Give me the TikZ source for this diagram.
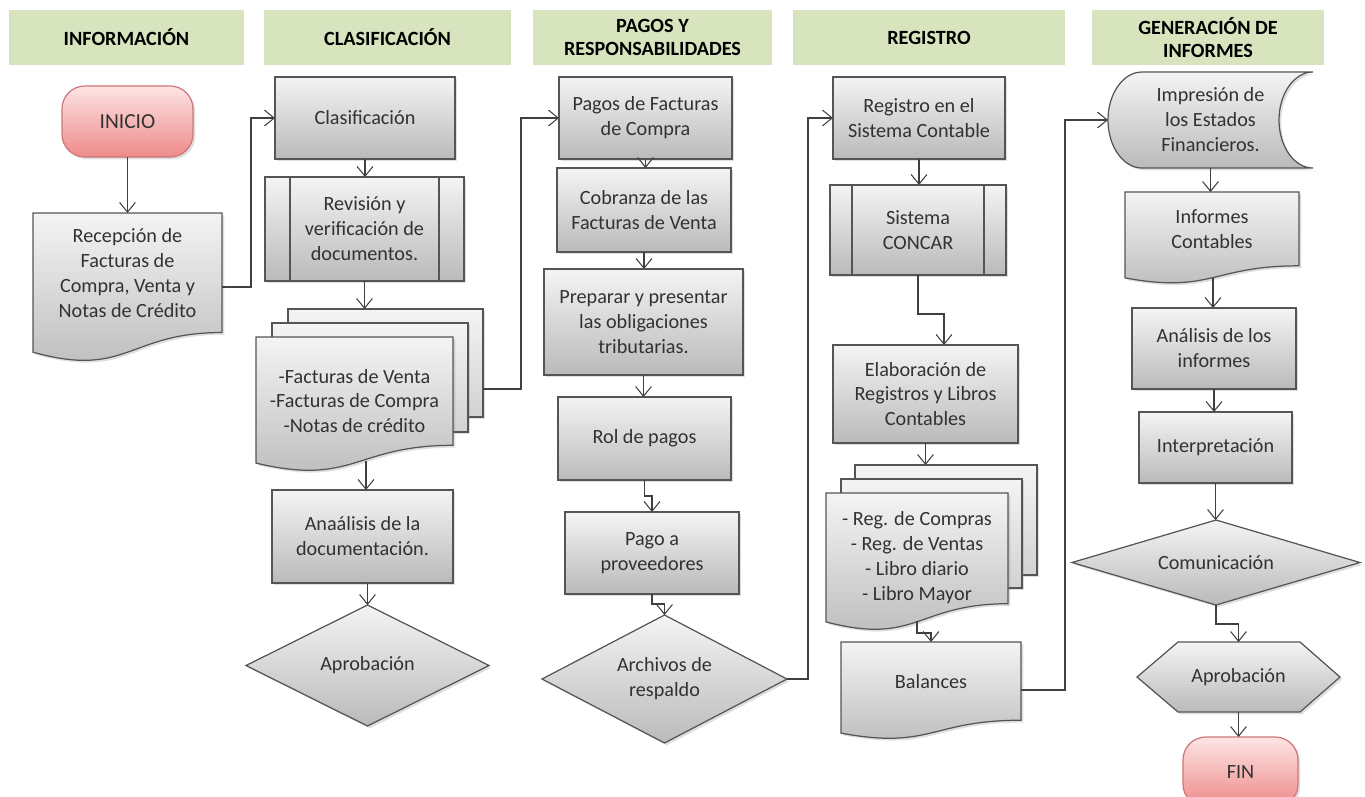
\documentclass[tikz,border=0pt]{standalone}
\usepackage{fontspec}
\setmainfont{Carlito}
\usetikzlibrary{arrows.meta,shadows,calc}
\definecolor{hdr}{RGB}{215,228,189}
\definecolor{gtop}{RGB}{244,244,244}
\definecolor{gbot}{RGB}{186,186,186}
\definecolor{gmid}{RGB}{210,210,210}
\definecolor{bord}{RGB}{85,85,85}
\definecolor{txt}{RGB}{50,50,50}
\definecolor{ptop}{RGB}{253,228,228}
\definecolor{pbot}{RGB}{238,138,138}
\definecolor{pbord}{RGB}{205,120,120}
\definecolor{lnc}{RGB}{64,64,64}
\begin{document}
\begin{tikzpicture}[x=0.02cm,y=-0.02cm,
  sz/.style 2 args={minimum width=#1*0.02cm, minimum height=#2*0.02cm},
  body/.style={font=\fontsize{11.5pt}{14.2pt}\selectfont, text=txt, align=center},
  hdrbox/.style={fill=hdr, draw=none, inner sep=0pt, outer sep=0pt, font=\bfseries\fontsize{11.5pt}{13.3pt}\selectfont, align=center, text=black},
  shp/.style={draw=bord, line width=0.7pt, top color=gtop, bottom color=gbot, drop shadow={opacity=0.25, shadow xshift=1.3pt, shadow yshift=-1.3pt}},
  shpl/.style={shp, bottom color=gmid},
  proc/.style={shp, body, inner sep=0pt, outer sep=0pt},
  term/.style={draw=pbord, line width=0.7pt, top color=ptop, bottom color=pbot, rounded corners=13pt, inner sep=0pt, outer sep=0pt, drop shadow={opacity=0.25, shadow xshift=1.3pt, shadow yshift=-1.3pt}, text=txt},
  lbl/.style={body, draw=none, inner sep=0pt, outer sep=0pt},
  conn/.style={draw=lnc, line width=0.6pt, -{Straight Barb[length=5.5pt,width=9pt]}},
  ln/.style={draw=bord, line width=0.7pt}
]
\useasboundingbox (0,0) rectangle (1365,796);

% ---------- headers ----------
\node[hdrbox, sz={235}{55}] (h1) at (126.5,37.5) {INFORMACIÓN};
\node[hdrbox, sz={247}{55}] (h2) at (387.5,37.5) {CLASIFICACIÓN};
\node[hdrbox, sz={239}{55}] (h3) at (652.5,37.5) {PAGOS Y\\RESPONSABILIDADES};
\node[hdrbox, sz={272}{55}] (h4) at (929,37.5) {REGISTRO};
\node[hdrbox, sz={232}{55}] (h5) at (1208,37.5) {GENERACIÓN DE\\INFORMES};

% ---------- column 1 ----------
\node[term, sz={131}{71}, font=\fontsize{12.2pt}{14pt}\selectfont] (inicio) at (127.5,121.5) {INICIO};
\path[shp] (33,213) -- (222,213) -- (222,332.5) .. controls (127.5,332.5) and (127.5,378.5) .. (33,352.2) -- cycle;
\node[lbl, sz={189}{119.5}] (recep) at (127.5,272.7) {Recepción de\\Facturas de\\Compra, Venta y\\Notas de Crédito};
\coordinate (recep-out) at (222,287);
\coordinate (b1) at (251,118);

% ---------- column 2 ----------
\node[proc, sz={180}{82}] (clasif) at (365,118) {Clasificación};
\node[proc, sz={199}{104}] (revis) at (364.5,229) {Revisión y\\verificación de\\documentos.};
\draw[ln] (290,177) -- (290,281) (439,177) -- (439,281);
\node[shpl, sz={195}{108}, inner sep=0pt, outer sep=0pt] (m2c) at (385.5,363) {};
\node[shpl, sz={196}{109}, inner sep=0pt, outer sep=0pt] (m2b) at (370,377.5) {};
\path[shp] (256,337) -- (453,337) -- (453,445.3) .. controls (354.5,445.3) and (354.5,486.4) .. (256,463.1) -- cycle;
\node[lbl] (m2) at (354.5,401) {-Facturas de Venta\\-Facturas de Compra\\-Notas de crédito};
\coordinate (m2-out) at (366,461);
\coordinate (m2-r) at (483,389);
\coordinate (b2) at (521,118);
\node[proc, sz={181}{93}] (anaal) at (362.5,536.5) {Anaálisis de la\\documentación.};
\path[shp] (367.5,605) -- (489,665.5) -- (367.5,726) -- (246,665.5) -- cycle;
\node[lbl, sz={243}{121}] (aprob1) at (367.5,665.5) {Aprobación};

% ---------- column 3 ----------
\node[proc, sz={173}{82}] (pagos) at (645.5,118) {Pagos de Facturas\\de Compra};
\node[proc, sz={174}{84}] (cobr) at (644,210) {Cobranza de las\\Facturas de Venta};
\node[proc, sz={199}{106}] (prep) at (643.5,322) {Preparar y presentar\\las obligaciones\\tributarias.};
\node[proc, sz={173}{83}] (rol) at (644.5,438.5) {Rol de pagos};
\node[proc, sz={174}{82}] (pagop) at (652,553) {Pago a\\proveedores};
\path[shp] (664.5,615) -- (787,679) -- (664.5,743) -- (542,679) -- cycle;
\node[lbl, sz={245}{128}] (arch) at (664.5,679) {Archivos de\\respaldo};
\coordinate (b3) at (808,118);

% ---------- column 4 ----------
\node[proc, sz={172}{82}] (regis) at (919,118) {Registro en el\\Sistema Contable};
\node[proc, sz={176}{90}] (concar) at (918,230) {Sistema\\CONCAR};
\draw[ln] (852,185) -- (852,275) (984,185) -- (984,275);
\coordinate (elab-in) at (944,345);
\node[proc, sz={185}{98}] (elab) at (925.5,394) {Elaboración de\\Registros y Libros\\Contables};
\node[shpl, sz={182}{110}, inner sep=0pt, outer sep=0pt] (m4c) at (946,520) {};
\node[shpl, sz={181}{109}, inner sep=0pt, outer sep=0pt] (m4b) at (931.5,533.5) {};
\path[shp] (826,493) -- (1008,493) -- (1008,603.7) .. controls (917,603.7) and (917,645.8) .. (826,621.9) -- cycle;
\node[lbl] (m4) at (917,558) {- Reg. de Compras\\- Reg. de Ventas\\- Libro diario\\- Libro Mayor};
\coordinate (m4-out) at (917,621);
\path[shp] (841,642) -- (1021,642) -- (1021,720.2) .. controls (931,720.2) and (931,749.9) .. (841,733.1) -- cycle;
\node[lbl, sz={180}{78.2}] (bal) at (931,681.1) {Balances};
\coordinate (bal-out) at (1021,690);
\coordinate (b5) at (1065,120);

% ---------- column 5 ----------
\path[shp] (1142,72) -- (1313,72)
  .. controls (1294.2,72) and (1279,93.5) .. (1279,120)
  .. controls (1279,146.5) and (1294.2,168) .. (1313,168)
  -- (1142,168)
  .. controls (1123.2,168) and (1108,146.5) .. (1108,120)
  .. controls (1108,93.5) and (1123.2,72) .. cycle;
\node[lbl, sz={205}{96}] (impr) at (1210.5,120) {Impresión de\\los Estados\\Financieros.};
\path[shp] (1125,192) -- (1299,192) -- (1299,265.8) .. controls (1212,265.8) and (1212,293.8) .. (1125,277.9) -- cycle;
\node[lbl, sz={174}{73.8}] (inf) at (1212,228.9) {Informes\\Contables};
\coordinate (inf-out) at (1213,277.5);
\node[proc, sz={164}{81}] (anal) at (1214,348.5) {Análisis de los\\informes};
\node[proc, sz={153}{71}] (interp) at (1215.5,447.5) {Interpretación};
\path[shp] (1216,520) -- (1360,562.5) -- (1216,605) -- (1072,562.5) -- cycle;
\node[lbl, sz={288}{85}] (comun) at (1216,562.5) {Comunicación};
\path[shp] (1178,642) -- (1300,642) -- (1340,677) -- (1300,712) -- (1178,712) -- (1137,677) -- cycle;
\node[lbl, sz={203}{70}] (aprob2) at (1238.5,677) {Aprobación};
\node[term, sz={115}{70}, font=\fontsize{11.5pt}{14pt}\selectfont] (fin) at (1240.5,772) {FIN};

% ---------- connectors ----------
\draw[conn] (inicio.south) -- (recep.north);
\draw[conn] (recep-out) -| (b1) -- (clasif.west);
\draw[conn] (clasif.south) -- (clasif.south |- revis.north);
\draw[conn] (revis.south) -- (revis.south |- m2c.north);
\draw[conn] (m2-r) -| (b2) -- (pagos.west);
\draw[conn] (m2-out) -- (m2-out |- anaal.north);
\draw[conn] (aprob1.north |- anaal.south) -- (aprob1.north);
\draw[conn] (pagos.south) -- (pagos.south |- cobr.north);
\draw[conn] (cobr.south) -- (cobr.south |- prep.north);
\draw[conn] (prep.south) -- (prep.south |- rol.north);
\draw[conn] (rol.south) -- ++(0,16) -| (pagop.north);
\draw[conn] (pagop.south) -- ++(0,10) -| (arch.north);
\draw[conn] (arch.east) -| (b3) -- (regis.west);
\draw[conn] (regis.south) -- (regis.south |- concar.north);
\draw[conn] (concar.south) -- ++(0,39) -| (elab-in);
\draw[conn] (elab.south) -- (elab.south |- m4c.north);
\draw[conn] (m4-out) -- ++(0,12) -| (bal.north);
\draw[conn] (bal-out) -| (b5) -- (impr.west);
\draw[conn] (impr.south) -- (impr.south |- inf.north);
\draw[conn] (inf-out) -- (inf-out |- anal.north);
\draw[conn] (anal.south) -- (anal.south |- interp.north);
\draw[conn] (interp.south) -- (interp.south |- comun.north);
\draw[conn] (comun.south) -- ++(0,19) -| (aprob2.north);
\draw[conn] (aprob2.south) -- (aprob2.south |- fin.north);
\end{tikzpicture}
\end{document}
